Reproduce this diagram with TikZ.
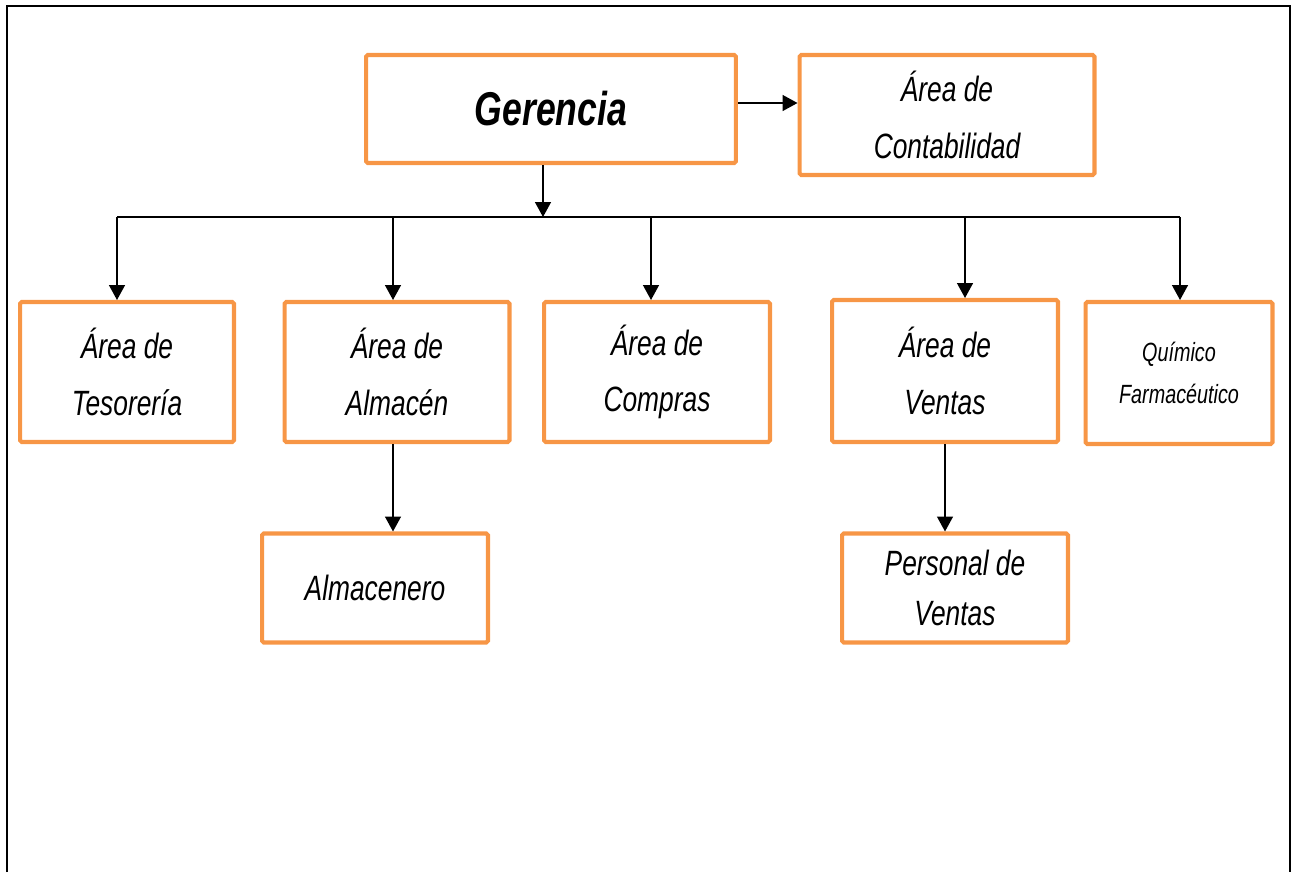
\documentclass[tikz,border=0pt]{standalone}
\usepackage{fontspec}
\usetikzlibrary{arrows.meta}

\newfontfamily\handfont[FakeStretch=0.75]{Liberation Sans}
\definecolor{caja}{HTML}{F79646}

\begin{document}
\begin{tikzpicture}[x=0.02cm, y=-0.02cm]
  \useasboundingbox (0,0) rectangle (1297,872);

  % marco de la hoja
  \draw[line width=0.7pt] (7,872) -- (7,6) -- (1290,6) -- (1290,872);

  \begin{scope}[every node/.style={draw=caja, line width=2.3pt, rounded corners=1pt,
      align=center, inner sep=0pt,
      font=\handfont\itshape\fontsize{20}{32}\selectfont}]
    \node[minimum width=7.4cm, minimum height=2.16cm,
      font=\handfont\bfseries\itshape\fontsize{27}{32}\selectfont] (1) at (551,109) {Gerencia};
    \node[minimum width=5.9cm, minimum height=2.4cm]  (2) at (947,115) {Área de\\Contabilidad};
    \node[minimum width=4.28cm, minimum height=2.8cm] (3) at (127,372) {Área de\\Tesorería};
    \node[minimum width=4.5cm, minimum height=2.8cm]  (4) at (397,372) {Área de\\Almacén};
    \node[minimum width=4.52cm, minimum height=2.8cm] (5) at (657,372) {Área de\\Compras};
    \node[minimum width=4.52cm, minimum height=2.84cm] (6) at (945,371) {Área de\\Ventas};
    \node[minimum width=3.74cm, minimum height=2.84cm,
      font=\handfont\itshape\fontsize{15}{24}\selectfont] (7) at (1179,373) {Químico\\Farmacéutico};
    \node[minimum width=4.52cm, minimum height=2.18cm] (8) at (375,588) {Almacenero};
    \node[minimum width=4.52cm, minimum height=2.18cm,
      font=\handfont\itshape\fontsize{20}{28}\selectfont] (9) at (955,588) {Personal de\\Ventas};
  \end{scope}

  % barra de reparto
  \coordinate (b)  at (543,217);
  \coordinate (t1) at (117,217);
  \coordinate (t2) at (393,217);
  \coordinate (t3) at (651,217);
  \coordinate (t4) at (965,217);
  \coordinate (t5) at (1180,217);

  \begin{scope}[line width=0.85pt, every edge/.style={draw, -{Triangle[length=0.3cm, width=0.32cm]}}]
    \draw (t1) -- (t5);
    \path (b |- 1.south) edge (b);
    \path ([yshift=0.12cm]1.east) edge ([yshift=0.12cm]1.east -| 2.west);
    \path (t1) edge (t1 |- 3.north);
    \path (t2) edge (t2 |- 4.north);
    \path (t3) edge (t3 |- 5.north);
    \path (t4) edge (t4 |- 6.north);
    \path (t5) edge (t5 |- 7.north);
    \path (t2 |- 4.south) edge (t2 |- 8.north);
    \path (6.south) edge (6.south |- 9.north);
  \end{scope}

\end{tikzpicture}
\end{document}
